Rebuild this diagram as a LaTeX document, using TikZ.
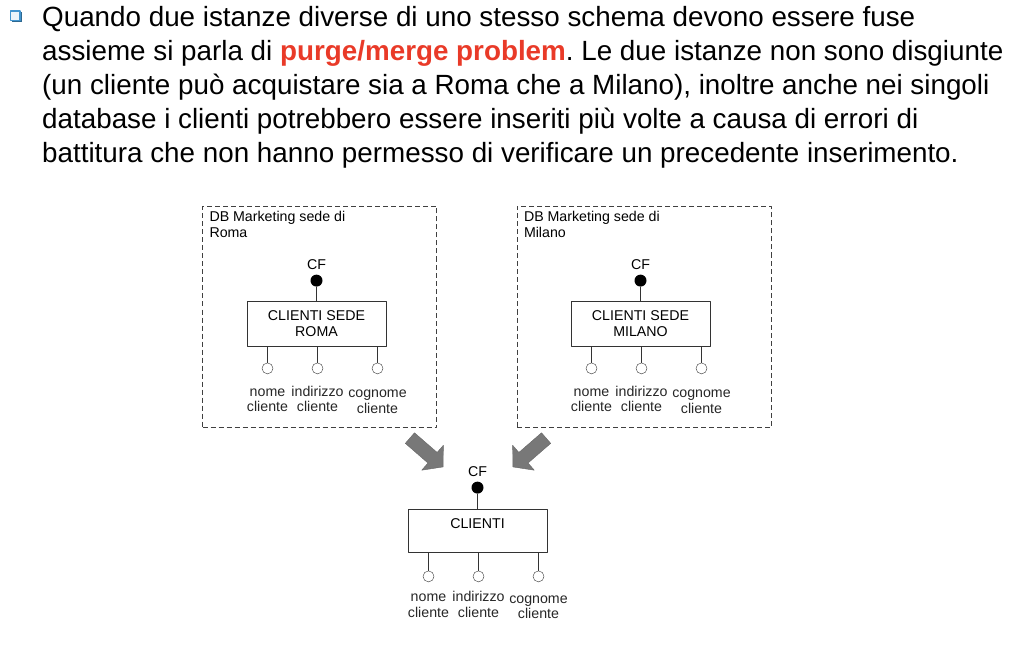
\documentclass[tikz,border=0pt]{standalone}
\usepackage{fontspec}
\setmainfont{Liberation Sans}
\usetikzlibrary{positioning}
\definecolor{bulletblue}{RGB}{66,148,206}
\definecolor{purgered}{RGB}{233,58,40}
\definecolor{arrowgray}{RGB}{120,120,120}
\frenchspacing
\begin{document}
\begin{tikzpicture}[x=1pt, y=-1pt, line join=round, font=\fontsize{14.2}{16}\selectfont]
\tikzset{dbbox/.style={draw=black!75, dashed, dash pattern=on 5pt off 3pt},
  entity/.style={draw=black!80, minimum width=139, minimum height=45, inner sep=0, align=center},
  keydot/.style={circle, fill=black, inner sep=0, minimum size=12},
  attr/.style={circle, draw=black!80, fill=white, inner sep=0, minimum size=11},
  attrlabel/.style={align=center, inner sep=0, text=black!85, font=\fontsize{14.2}{15.5}\selectfont},
  bigarrow/.style={fill=arrowgray, draw=black!60}}
\useasboundingbox (0,0) rectangle (1014,652);
% testo
\fill[bulletblue!70!black] (12,12.5) rectangle (22,22.5);
\filldraw[fill=bulletblue!10, draw=bulletblue, line width=1.3pt] (10.5,11) rectangle (20,20.5);
\node (testo) [anchor=north west, align=left, inner sep=0, font=\fontsize{27.8}{34}\selectfont] at (42,6.5)
  {Quando due istanze diverse di uno stesso schema devono essere fuse\\
   assieme si parla di {\bfseries\color{purgered}purge/merge problem}. Le due istanze non sono disgiunte\\
   (un cliente pu\`o acquistare sia a Roma che a Milano), inoltre anche nei singoli\\
   database i clienti potrebbero essere inseriti pi\`u volte a causa di errori di\\
   battitura che non hanno permesso di verificare un precedente inserimento.};
% database
\node (dbroma) [dbbox, minimum width=234, minimum height=221] at (319.5,317) {};
\node (dbmilano) [dbbox, minimum width=254, minimum height=221] at (644,317) {};
\node [anchor=north west, align=left, inner sep=0] at ([shift={(7,5)}]dbroma.north west) {DB Marketing sede di\\Roma};
\node [anchor=north west, align=left, inner sep=0] at ([shift={(7,5)}]dbmilano.north west) {DB Marketing sede di\\Milano};
% entita
\node (roma) [entity] at (316.5,323.5) {CLIENTI SEDE\\ROMA};
\node (milano) [entity] at (640.5,323.5) {CLIENTI SEDE\\MILANO};
\node (clienti) [entity, minimum height=43] at (477.5,530.5) {};
\node [below=6pt of clienti.north] {CLIENTI};
\foreach \e/\d/\l/\g in {roma/14/16.5/11.5, milano/14/16.5/11.5, clienti/15/18.5/9}{
  \node (cf\e) [keydot, above=\d pt of \e] {};
  \draw[black!80] (cf\e) -- (\e);
  \node [above=1.5pt of cf\e] {CF};
  \foreach \dx/\dy/\t [count=\i] in {-49/0/{nome\\cliente}, 1/0/{indirizzo\\cliente}, 61/1.5/{cognome\\cliente}}{
    \draw[black!80] ([xshift=\dx]\e.south) -- ++(0,\l) node (\e\i) [attr, anchor=north] {};
    \node [attrlabel, below=\g pt+\dy pt of \e\i] {\vphantom{d}\t};
  }
}
% frecce
\foreach \c/\a in {{(426.5,452.5)}/-41, {(529.5,452.5)}/-139}
  \draw[bigarrow, shift={\c}, rotate=\a] (-22,-7) -- (8,-7) -- (8,-16.5) -- (22,0) -- (8,16.5) -- (8,7) -- (-22,7) -- cycle;
\end{tikzpicture}
\end{document}
